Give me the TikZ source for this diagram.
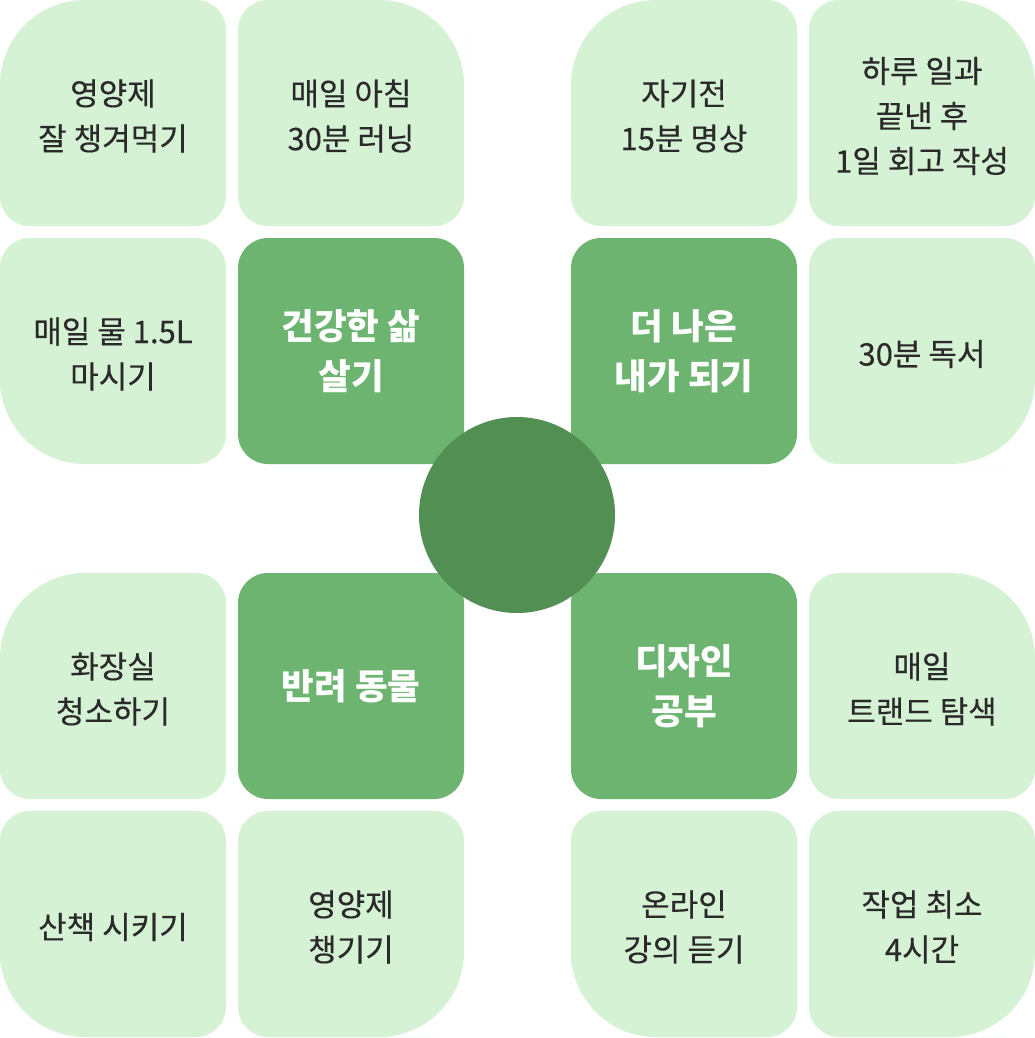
\documentclass[tikz,border=0pt]{standalone}
\usepackage{fontspec}
\setmainfont{Noto Sans CJK KR}
\newfontfamily\leaffont{Noto Sans CJK KR}[FakeBold=0.35]
\usepackage{tikz}
\definecolor{leafgreen}{HTML}{D6F2D5}
\definecolor{stemgreen}{HTML}{6DB471}
\definecolor{coregreen}{HTML}{528F52}
\definecolor{inkgrey}{HTML}{2A2A2A}
% box 226 x 226, radii given TL:TR:BR:BL
\def\petal[#1](#2,#3)(#4:#5:#6:#7){\fill[#1] (#2,#3+113) [rounded corners=#4] -- (#2,#3) -- (#2+113,#3) [rounded corners=#5] -- (#2+226,#3) -- (#2+226,#3+113) [rounded corners=#6] -- (#2+226,#3+226) -- (#2+113,#3+226) [rounded corners=#7] -- (#2,#3+226) -- cycle;}
\tikzset{
  leaftext/.style={align=center, text=inkgrey, yshift=-3pt, font=\leaffont\fontsize{31}{45}\selectfont},
  stemtext/.style={align=center, text=white, font=\bfseries\fontsize{35.5}{50}\selectfont},
  core/.style={circle, fill=coregreen, minimum size=196pt, inner sep=0pt}
}

\begin{document}
\begin{tikzpicture}[x=1pt, y=-1pt]
			%%%%% START %%%%%
			\useasboundingbox[fill=white] (0,0) rectangle (1035,1038);
			
			% health
			\petal[leafgreen](0,0)(85pt:30pt:30pt:30pt);
			\petal[leafgreen](238,0)(30pt:85pt:30pt:30pt);
			\petal[leafgreen](0,238)(30pt:30pt:30pt:85pt);
			\petal[stemgreen](238,238)(30pt:30pt:30pt:30pt);
			\node[leaftext] (vitamin) at (113,113) {영양제\\잘 챙겨먹기};
			\node[leaftext] (running) at (351,113) {매일 아침\\30분 러닝};
			\node[leaftext] (water) at (113,351) {매일 물 1.5L\\마시기};
			\node[stemtext] (health) at (351,351) {건강한 삶\\살기};
			
			% better me
			\petal[leafgreen](571,0)(85pt:30pt:30pt:30pt);
			\petal[leafgreen](809,0)(30pt:85pt:30pt:30pt);
			\petal[stemgreen](571,238)(30pt:30pt:30pt:30pt);
			\petal[leafgreen](809,238)(30pt:30pt:85pt:30pt);
			\node[leaftext] (meditate) at (684,113) {자기전\\15분 명상};
			\node[leaftext] (review) at (922,113) {하루 일과\\끝낸 후\\1일 회고 작성};
			\node[stemtext] (better) at (684,351) {더 나은\\내가 되기};
			\node[leaftext] (reading) at (922,351) {30분 독서};
			
			% pet
			\petal[leafgreen](0,573)(85pt:30pt:30pt:30pt);
			\petal[stemgreen](238,573)(30pt:30pt:30pt:30pt);
			\petal[leafgreen](0,811)(30pt:30pt:30pt:85pt);
			\petal[leafgreen](238,811)(30pt:30pt:85pt:30pt);
			\node[leaftext] (toilet) at (113,686) {화장실\\청소하기};
			\node[stemtext] (pet) at (351,686) {반려 동물};
			\node[leaftext] (walk) at (113,924) {산책 시키기};
			\node[leaftext] (petvitamin) at (351,924) {영양제\\챙기기};
			
			% design
			\petal[stemgreen](571,573)(30pt:30pt:30pt:30pt);
			\petal[leafgreen](809,573)(30pt:85pt:30pt:30pt);
			\petal[leafgreen](571,811)(30pt:30pt:30pt:85pt);
			\petal[leafgreen](809,811)(30pt:30pt:85pt:30pt);
			\node[stemtext] (design) at (684,686) {디자인\\공부};
			\node[leaftext] (trend) at (922,686) {매일\\트랜드 탐색};
			\node[leaftext] (lecture) at (684,924) {온라인\\강의 듣기};
			\node[leaftext] (work) at (922,924) {작업 최소\\4시간};
			
			\node[core] (center) at (517,515) {};
			%%%%% END %%%%%
		\end{tikzpicture}
\end{document}
